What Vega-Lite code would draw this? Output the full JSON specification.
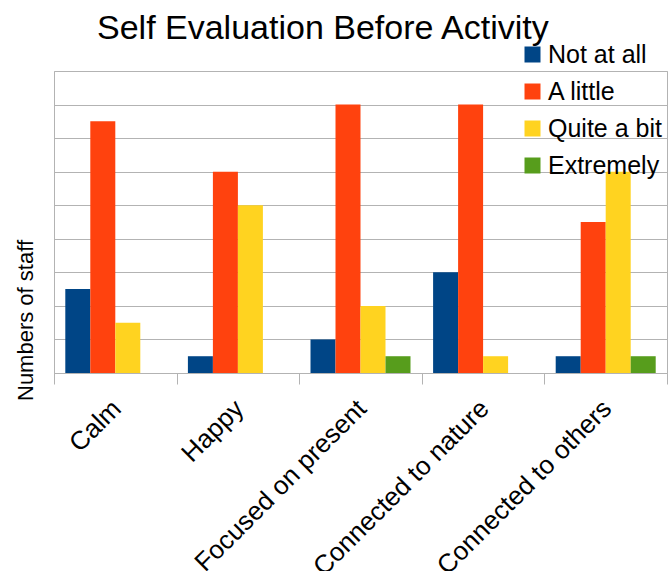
{
  "$schema": "https://vega.github.io/schema/vega-lite/v6.json",
  "width": 613,
  "height": 302,
  "autosize": {"type": "none"},
  "padding": {"left": 54, "top": 71, "right": 3, "bottom": 198},
  "background": "white",
  "title": {
    "text": "Self Evaluation Before Activity",
    "font": "Liberation Sans",
    "fontSize": 34,
    "fontWeight": "normal",
    "color": "black",
    "anchor": "start",
    "frame": "group",
    "dx": 43,
    "offset": -4
  },
  "data": {
    "values": [
      {"item": "Calm", "level": "Not at all", "count": 5},
      {"item": "Calm", "level": "A little", "count": 15},
      {"item": "Calm", "level": "Quite a bit", "count": 3},
      {"item": "Calm", "level": "Extremely", "count": 0},
      {"item": "Happy", "level": "Not at all", "count": 1},
      {"item": "Happy", "level": "A little", "count": 12},
      {"item": "Happy", "level": "Quite a bit", "count": 10},
      {"item": "Happy", "level": "Extremely", "count": 0},
      {"item": "Focused on present", "level": "Not at all", "count": 2},
      {"item": "Focused on present", "level": "A little", "count": 16},
      {"item": "Focused on present", "level": "Quite a bit", "count": 4},
      {"item": "Focused on present", "level": "Extremely", "count": 1},
      {"item": "Connected to nature", "level": "Not at all", "count": 6},
      {"item": "Connected to nature", "level": "A little", "count": 16},
      {"item": "Connected to nature", "level": "Quite a bit", "count": 1},
      {"item": "Connected to nature", "level": "Extremely", "count": 0},
      {"item": "Connected to others", "level": "Not at all", "count": 1},
      {"item": "Connected to others", "level": "A little", "count": 9},
      {"item": "Connected to others", "level": "Quite a bit", "count": 12},
      {"item": "Connected to others", "level": "Extremely", "count": 1}
    ]
  },
  "mark": {"type": "bar"},
  "encoding": {
    "x": {
      "field": "item",
      "type": "nominal",
      "sort": ["Calm", "Happy", "Focused on present", "Connected to nature", "Connected to others"],
      "scale": {"paddingInner": 0, "paddingOuter": 0},
      "axis": {
        "title": null,
        "domain": true,
        "domainColor": "#b3b3b3",
        "ticks": true,
        "tickBand": "extent",
        "tickSize": 11,
        "tickColor": "#b3b3b3",
        "grid": false,
        "labelAngle": -45,
        "labelAlign": "right",
        "labelBaseline": "top",
        "labelFont": "Liberation Sans",
        "labelFontSize": 26,
        "labelColor": "black",
        "labelPadding": 11,
        "labelOffset": -8,
        "labelOverlap": false,
        "labelLimit": 0
      }
    },
    "xOffset": {
      "field": "level",
      "type": "nominal",
      "sort": ["Not at all", "A little", "Quite a bit", "Extremely"],
      "scale": {"domain": ["Not at all", "A little", "Quite a bit", "Extremely"], "paddingInner": 0, "paddingOuter": 0.452}
    },
    "y": {
      "field": "count",
      "type": "quantitative",
      "scale": {"domain": [0, 18], "nice": false},
      "axis": {
        "title": "Numbers of staff",
        "titleFont": "Liberation Sans",
        "titleFontSize": 22,
        "titleFontWeight": "normal",
        "titleColor": "black",
        "titleAngle": -90,
        "titleAlign": "center",
        "titleBaseline": "alphabetic",
        "titleX": -22,
        "titleY": 249,
        "labels": false,
        "ticks": false,
        "domain": false,
        "grid": true,
        "gridColor": "#b3b3b3",
        "gridWidth": 1,
        "values": [0, 2, 4, 6, 8, 10, 12, 14, 16, 18]
      }
    },
    "color": {
      "field": "level",
      "type": "nominal",
      "sort": ["Not at all", "A little", "Quite a bit", "Extremely"],
      "scale": {
        "domain": ["Not at all", "A little", "Quite a bit", "Extremely"],
        "range": ["#004586", "#ff420e", "#ffd320", "#579d1c"]
      },
      "legend": {
        "title": null,
        "orient": "none",
        "legendX": 466,
        "legendY": -29,
        "padding": 0,
        "symbolType": "square",
        "symbolSize": 256,
        "symbolStrokeWidth": 0,
        "labelFont": "Liberation Sans",
        "labelFontSize": 25,
        "labelColor": "black",
        "labelOffset": 3,
        "rowPadding": 11,
        "labelLimit": 0
      }
    }
  },
  "config": {
    "view": {"stroke": "#b3b3b3", "strokeWidth": 1}
  }
}
